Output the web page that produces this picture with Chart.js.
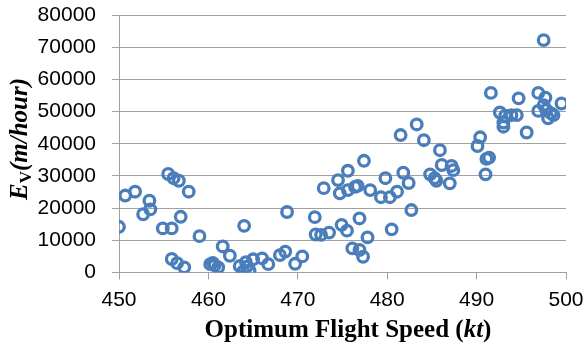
<!DOCTYPE html>
<html lang="en">
<head>
  <meta charset="UTF-8">
  <title>Optimum Flight Speed vs E_V</title>
  <script src="https://cdn.jsdelivr.net/npm/chart.js"></script>
  <style>
    html, body {
      margin: 0;
      padding: 0;
      background: #fff;
    }
    #wrap {
      width: 585px;
      height: 351px;
    }
  </style>
</head>
<body>
  <div id="wrap"><canvas id="speedChart" width="585" height="351"></canvas></div>

  <script>
    // Optimum flight speed (kt) for each sample
    const speeds = [
      450.0, 450.7, 451.8, 452.7, 453.4, 453.5,
      455.5, 456.1, 456.7, 457.8,
      454.9, 455.9, 456.9, 459.0,
      455.9, 456.5, 457.3,
      460.2, 460.7, 461.1, 460.5,
      461.6, 462.4, 464.0,
      463.5, 463.9, 464.3, 464.6, 464.2,
      465.0, 466.0, 466.7,
      468.0, 468.6, 468.8, 469.7, 470.5,
      471.9, 472.0, 472.6, 473.5, 472.9,
      474.5, 474.7, 474.9, 475.5, 475.6, 475.6, 476.4, 476.7, 476.9,
      476.1, 476.9, 477.3, 477.8, 477.4, 478.1,
      479.3, 479.8, 480.3, 480.5, 481.1, 481.8, 481.5, 482.4, 482.7,
      483.3, 484.1, 485.9, 484.8, 485.3, 485.5, 486.1, 487.2, 487.4, 487.0,
      490.1, 490.4, 491.6, 491.1, 491.4, 491.0,
      492.6, 493.2, 493.9, 494.5, 493.0, 493.0, 495.6, 494.7,
      496.9, 497.7, 499.5, 496.9, 497.5, 497.8, 498.0, 498.6, 498.3, 497.5
    ];

    // E_V (m/hour) for each sample
    const evRates = [
      14200, 23900, 25100, 18100, 22300, 19600,
      30600, 29300, 28500, 25100,
      13700, 13700, 17300, 11300,
      4200, 2900, 1600,
      2600, 2200, 1600, 3000,
      8100, 5200, 14500,
      2000, 300, 1800, 600, 3200,
      4100, 4400, 2600,
      5400, 6500, 18800, 2700, 5000,
      17200, 11800, 11700, 12400, 26200,
      28700, 24600, 14800, 13000, 31600, 25600, 26600, 26900, 16800,
      7500, 7000, 4900, 10900, 34700, 25600,
      23400, 29300, 23400, 13400, 25100, 31000, 42700, 27800, 19400,
      46000, 41100, 38000, 30500, 29300, 28500, 33400, 33100, 31800, 27700,
      39300, 42000, 55800, 35300, 35700, 30500,
      49700, 48700, 48900, 48900, 45300, 46600, 43500, 54100,
      55800, 54300, 52500, 50200, 52000, 50500, 47900, 48900, 49500, 72200
    ];

    // axis ranges
    const xRange = [450, 500, 10];
    const yRange = [0, 80000, 10000];

    const points = speeds.map((s, i) => ({ x: s, y: evRates[i] }));

    // axis titles drawn by hand so the italic / subscript parts come out right
    function drawRuns(ctx, runs, x, y) {
      let total = 0;
      runs.forEach(r => { ctx.font = r.font; total += ctx.measureText(r.text).width; });
      let cx = x - total / 2;
      runs.forEach(r => {
        ctx.font = r.font;
        ctx.fillText(r.text, cx, y + (r.dy || 0));
        cx += ctx.measureText(r.text).width;
      });
    }

    const axisTitles = {
      id: 'axisTitles',
      afterDraw(chart) {
        const { ctx } = chart;
        const serif = '"Liberation Serif", "Times New Roman", serif';
        ctx.save();
        ctx.fillStyle = '#000';
        ctx.textBaseline = 'alphabetic';

        drawRuns(ctx, [
          { font: 'bold 25px ' + serif, text: 'Optimum Flight Speed (' },
          { font: 'italic bold 25px ' + serif, text: 'kt' },
          { font: 'bold 25px ' + serif, text: ')' }
        ], 348, 337);

        ctx.translate(27, 139);
        ctx.rotate(-Math.PI / 2);
        drawRuns(ctx, [
          { font: 'italic bold 25px ' + serif, text: 'E' },
          { font: 'bold 17px ' + serif, text: 'V', dy: 4 },
          { font: 'italic bold 25px ' + serif, text: '(m/hour)' }
        ], 0, 0);
        ctx.restore();
      }
    };

    // keep the plot box where the layout padding puts it
    function noLabelPadding(scale) {
      scale.paddingTop = 0;
      scale.paddingBottom = 0;
      scale.paddingLeft = 0;
      scale.paddingRight = 0;
    }

    new Chart(document.getElementById('speedChart'), {
      type: 'scatter',
      data: {
        datasets: [{
          data: points,
          pointStyle: 'circle',
          pointRadius: 5.3,
          pointHoverRadius: 5.3,
          borderWidth: 3.3,
          borderColor: '#4a7ebb',
          backgroundColor: 'rgba(0,0,0,0)'
        }]
      },
      options: {
        responsive: false,
        animation: false,
        layout: { padding: { top: 15, right: 19, left: 0, bottom: 0 } },
        plugins: {
          legend: { display: false },
          tooltip: { enabled: false }
        },
        scales: {
          x: {
            type: 'linear',
            min: xRange[0],
            max: xRange[1],
            afterFit(scale) { scale.height = 78.5; noLabelPadding(scale); },
            ticks: {
              stepSize: xRange[2],
              color: '#000',
              padding: 8,
              font: { family: '"Liberation Sans", Arial, sans-serif', size: 21 }
            },
            grid: {
              drawOnChartArea: false,
              drawTicks: true,
              tickLength: 7,
              color: '#a0a0a0'
            },
            border: { color: '#a0a0a0' }
          },
          y: {
            type: 'linear',
            min: yRange[0],
            max: yRange[1],
            afterFit(scale) { scale.width = 119; noLabelPadding(scale); },
            ticks: {
              stepSize: yRange[2],
              color: '#000',
              padding: 16,
              callback: v => String(v),
              font: { family: '"Liberation Sans", Arial, sans-serif', size: 21 }
            },
            grid: {
              color: '#a0a0a0',
              tickLength: 7
            },
            border: { color: '#a0a0a0' }
          }
        }
      },
      plugins: [axisTitles]
    });
  </script>
</body>
</html>
